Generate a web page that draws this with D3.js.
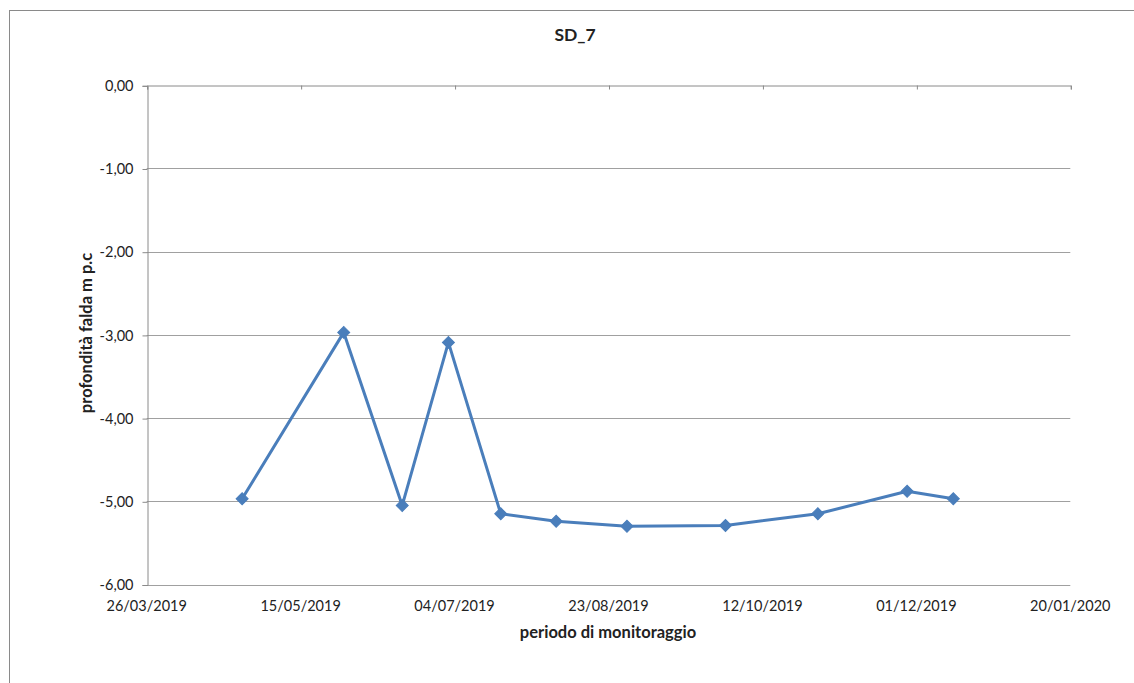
<!DOCTYPE html>
<html>
<head>
<meta charset="utf-8">
<script src="https://cdn.jsdelivr.net/npm/d3@7"></script>
<style>
  html, body { margin: 0; padding: 0; background: #fff; }
  svg { display: block; }
  text { font-family: Lato, "Open Sans", sans-serif; fill: #222; }
</style>
</head>
<body>
<svg id="chart" width="1134" height="683"></svg>
<script>
// ---- data ----
const chartTitle = "SD_7";
const xTitle = "periodo di monitoraggio";
const yTitle = "profondità falda m p.c";
const dates = ["26/04/2019","29/05/2019","17/06/2019","02/07/2019","19/07/2019","06/08/2019",
               "29/08/2019","30/09/2019","30/10/2019","28/11/2019","13/12/2019"];
const depths = [-4.97, -2.97, -5.05, -3.09, -5.15, -5.24, -5.30, -5.29, -5.15, -4.88, -4.97];
const xTickLabels = ["26/03/2019","15/05/2019","04/07/2019","23/08/2019","12/10/2019","01/12/2019","20/01/2020"];
const yTickValues = [0, -1, -2, -3, -4, -5, -6];

(function () {
// ---- helpers ----
const parse = d3.utcParse("%d/%m/%Y");
const fmtDate = d3.utcFormat("%d/%m/%Y");
const fmtNum = v => (v < 0 ? "-" : "") + Math.abs(v).toFixed(2).replace(".", ",");
const points = dates.map((d, i) => ({ date: parse(d), value: depths[i] }));
const xTicks = xTickLabels.map(parse);

// ---- layout ----
const svg = d3.select("#chart");
const pLeft = 146.7, pRight = 1070.3, pTop = 85.3, pBottom = 584.5;

svg.append("rect")
  .attr("x", 9.5).attr("y", 10.5).attr("width", 1200).attr("height", 800)
  .attr("fill", "#fff").attr("stroke", "#8a8a8a").attr("stroke-width", 1);

const x = d3.scaleUtc().domain([xTicks[0], xTicks[xTicks.length - 1]]).range([pLeft, pRight]);
const y = d3.scaleLinear().domain([-6, 0]).range([pBottom, pTop]);

// gridlines
svg.append("g").selectAll("line").data(yTickValues.filter(v => v !== 0)).join("line")
  .attr("x1", pLeft).attr("x2", pRight)
  .attr("y1", d => Math.round(y(d)) + 0.5).attr("y2", d => Math.round(y(d)) + 0.5)
  .attr("stroke", "#a0a0a0").attr("stroke-width", 1);

// y axis
const yAxis = d3.axisLeft(y).tickValues(yTickValues).tickFormat(fmtNum).tickSize(5).tickPadding(9);
const gy = svg.append("g").attr("transform", `translate(${Math.round(pLeft) + 0.5},0.5)`).call(yAxis);
gy.select(".domain").attr("stroke", "#8a8a8a");
gy.selectAll(".tick line").attr("stroke", "#8a8a8a");
gy.selectAll(".tick text").style("font-family", "Lato, sans-serif").style("font-size", "14.5px").attr("fill", "#333");

// x axis line at value 0 with ticks pointing down
const xAxis = d3.axisBottom(x).tickValues(xTicks).tickFormat("").tickSize(4).tickSizeOuter(4);
const gx = svg.append("g").attr("transform", `translate(0.5,${Math.round(y(0)) + 0.5})`).call(xAxis);
gx.select(".domain").attr("stroke", "#8a8a8a");
gx.selectAll(".tick line").attr("stroke", "#8a8a8a");

// x tick labels placed low
svg.append("g").selectAll("text").data(xTicks).join("text")
  .attr("x", d => x(d)).attr("y", 611)
  .attr("text-anchor", "middle")
  .style("font-size", "14.5px").attr("fill", "#333")
  .text(d => fmtDate(d));

// line
const line = d3.line().x(d => x(d.date)).y(d => y(d.value));
svg.append("path").datum(points)
  .attr("d", line).attr("fill", "none")
  .attr("stroke", "#4a7ebb").attr("stroke-width", 3).attr("stroke-linejoin", "round");

// markers (diamonds)
const sym = d3.symbol().type(d3.symbolSquare).size(72);
svg.append("g").selectAll("path").data(points).join("path")
  .attr("d", sym())
  .attr("transform", d => `translate(${x(d.date)},${y(d.value)}) rotate(45)`)
  .attr("fill", "#4a7ebb").attr("stroke", "#4a7ebb").attr("stroke-width", 1);

// titles
svg.append("text").attr("x", 575).attr("y", 41).attr("text-anchor", "middle")
  .style("font-size", "17.5px").style("font-weight", "bold").attr("fill", "#111").text(chartTitle);
svg.append("text").attr("x", 608).attr("y", 638).attr("text-anchor", "middle")
  .style("font-size", "16.5px").style("font-weight", "bold").attr("fill", "#111").text(xTitle);
svg.append("text").attr("transform", "translate(92,333) rotate(-90)").attr("text-anchor", "middle")
  .style("font-size", "16.5px").style("font-weight", "bold").attr("fill", "#111").text(yTitle);
})();
</script>
</body>
</html>
